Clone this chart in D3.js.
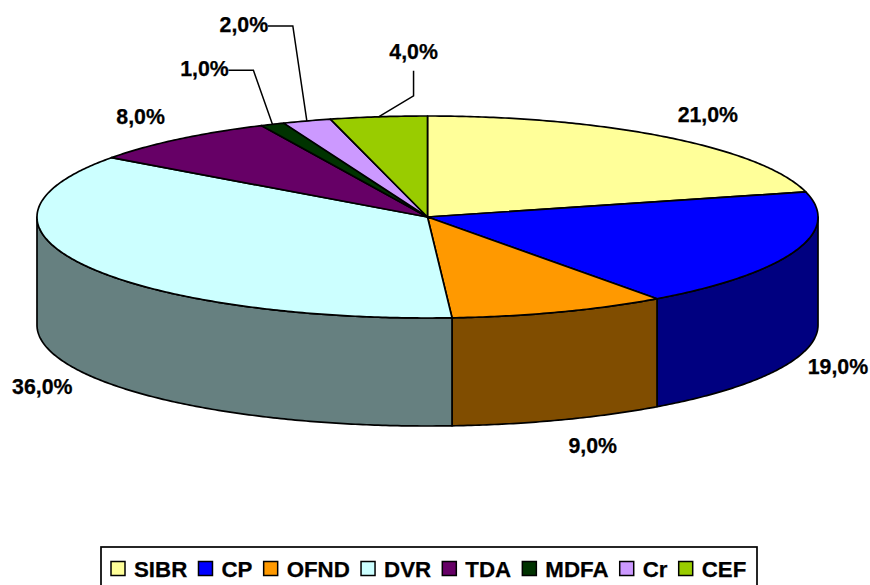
<!DOCTYPE html>
<html>
<head>
<meta charset="utf-8">
<script src="https://cdn.jsdelivr.net/npm/d3@7/dist/d3.min.js"></script>
<style>
html,body{margin:0;padding:0;background:#fff;overflow:hidden}
svg{display:block}
text{font-family:"Liberation Sans",Arial,sans-serif;font-weight:bold;fill:#000;stroke:#000;stroke-width:0.25px}
</style>
</head>
<body>
<svg id="c" width="870" height="585"></svg>
<script>
// Data
const categories = ["SIBR","CP","OFND","DVR","TDA","MDFA","Cr","CEF"];
const shares = [21,19,9,36,8,1,2,4];
const colors = ["#FFFF99","#0000FF","#FF9900","#CCFFFF","#660066","#003300","#CC99FF","#99CC00"];

// Layout (label offsets from each slice's rim point)
const labelDX = [41,43,33,-43,-38,-68,-63,35];
const labelDY = [-22,8,26,13,-22,-55,-96,-65];
const onWall  = [false,true,true,true,false,false,false,false];
const leaderElbow = [null,null,null,null,null,[-19,-54],[-14,-95],[35,-21]];
const leaderStart = [null,null,null,null,null,[-44,-54],[-39,-95],[35,-46]];

const svg = d3.select("#c");
const x = d3.scaleLinear().domain([-1,1]).range([37,818]);
const y = d3.scaleLinear().domain([-1,1]).range([116,318]);
const depth = 108;
const STROKE = "#000", SW = 1.7;

const arcs = d3.pie().sort(null).startAngle(0).endAngle(2*Math.PI)(shares);
const rim = t => [x(Math.sin(t)), y(-Math.cos(t))];
const sample = (a,b) => { const n = Math.max(2,Math.ceil((b-a)/0.01)); return d3.range(n+1).map(i=>a+(b-a)*i/n); };
const line = d3.line();
const dark = c => { const r = d3.rgb(c); return d3.rgb(r.r/2,r.g/2,r.b/2).formatHex(); };

// Walls
const front0 = Math.PI/2, front1 = 3*Math.PI/2;
svg.append("g").selectAll("path")
  .data(arcs.filter(a => a.endAngle > front0 && a.startAngle < front1))
  .join("path")
  .attr("d", a => {
    const top = sample(Math.max(a.startAngle,front0), Math.min(a.endAngle,front1)).map(rim);
    const bottom = top.slice().reverse().map(p => [p[0],p[1]+depth]);
    return line(top.concat(bottom)) + "Z";
  })
  .attr("fill", (a) => dark(colors[a.index]))
  .attr("stroke", STROKE).attr("stroke-width", SW).attr("stroke-linejoin","round");

// Top surface
svg.append("g").selectAll("path")
  .data(arcs)
  .join("path")
  .attr("d", a => line([[x(0),y(0)]].concat(sample(a.startAngle,a.endAngle).map(rim))) + "Z")
  .attr("fill", a => colors[a.index])
  .attr("stroke", STROKE).attr("stroke-width", SW).attr("stroke-linejoin","round");

// Labels and leaders
const fmt = v => v.toFixed(1).replace(".",",") + "%";
arcs.forEach((a,i) => {
  const p = rim((a.startAngle+a.endAngle)/2);
  const ay = p[1] + (onWall[i] ? depth : 0);
  if (leaderElbow[i]) {
    svg.append("path")
      .attr("d", line([[p[0]+leaderStart[i][0],ay+leaderStart[i][1]],[p[0]+leaderElbow[i][0],ay+leaderElbow[i][1]],[p[0],ay]]))
      .attr("fill","none").attr("stroke","#000").attr("stroke-width",1.5);
  }
  svg.append("text")
    .attr("x",p[0]+labelDX[i]).attr("y",ay+labelDY[i])
    .attr("text-anchor","middle").attr("dominant-baseline","central")
    .attr("font-size",21.3).text(fmt(shares[i]));
});

// Legend
const lg = svg.append("g");
lg.append("rect").attr("x",101).attr("y",547).attr("width",656).attr("height",50)
  .attr("fill","#fff").attr("stroke","#000").attr("stroke-width",1.7);
let cx = 111;
categories.forEach((c,i) => {
  lg.append("rect").attr("x",cx).attr("y",561.5).attr("width",14).attr("height",14)
    .attr("fill",colors[i]).attr("stroke","#000").attr("stroke-width",1.5);
  const t = lg.append("text").attr("x",cx+23).attr("y",569).attr("dominant-baseline","central")
    .attr("font-size",22.3).text(c);
  cx += 23 + t.node().getComputedTextLength() + 11.2;
});
</script>
</body>
</html>
